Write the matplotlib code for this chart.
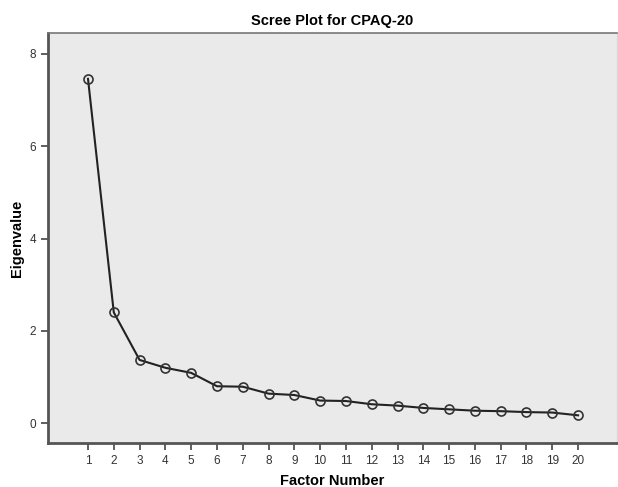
import matplotlib; matplotlib.use('Agg')
import matplotlib.pyplot as plt

factors = list(range(1, 21))
eigenvalues = [7.46, 2.40, 1.37, 1.20, 1.09, 0.80, 0.79, 0.64, 0.61, 0.49,
               0.48, 0.41, 0.38, 0.33, 0.30, 0.27, 0.26, 0.24, 0.23, 0.17]
yticks = [0, 2, 4, 6, 8]

plt.rcParams['font.family'] = ['Liberation Sans', 'DejaVu Sans']
fig = plt.figure(figsize=(6.18, 4.87), dpi=100)
ax = fig.add_axes([0.0777, 0.0903, 0.9203, 0.8417])
ax.set_facecolor('#eaeaea')

ax.plot(factors, eigenvalues, color='#222222', lw=1.5, marker='o', ms=6.5,
        mfc='none', mec='#333333', mew=1.2)

ax.set_xlim(-0.55, 21.5)
ax.set_ylim(-0.43, 8.45)
ax.set_xticks(factors)
ax.set_yticks(yticks)
ax.tick_params(direction='out', length=5, width=1.2, color='#444444',
               labelsize=8.5, labelcolor='#333333')
for s in ['left', 'bottom']:
    ax.spines[s].set_color('#555555'); ax.spines[s].set_linewidth(2)
ax.spines['top'].set_color('#777777'); ax.spines['top'].set_linewidth(1.2)
ax.spines['right'].set_color('#d8d8d8'); ax.spines['right'].set_linewidth(1)

ax.set_title('Scree Plot for CPAQ-20', fontsize=10.5, fontweight='bold', pad=6)
ax.set_xlabel('Factor Number', fontsize=10.5, fontweight='bold', labelpad=5)
ax.set_ylabel('Eigenvalue', fontsize=10.5, fontweight='bold', labelpad=4)

plt.savefig('out.png', dpi=100)
